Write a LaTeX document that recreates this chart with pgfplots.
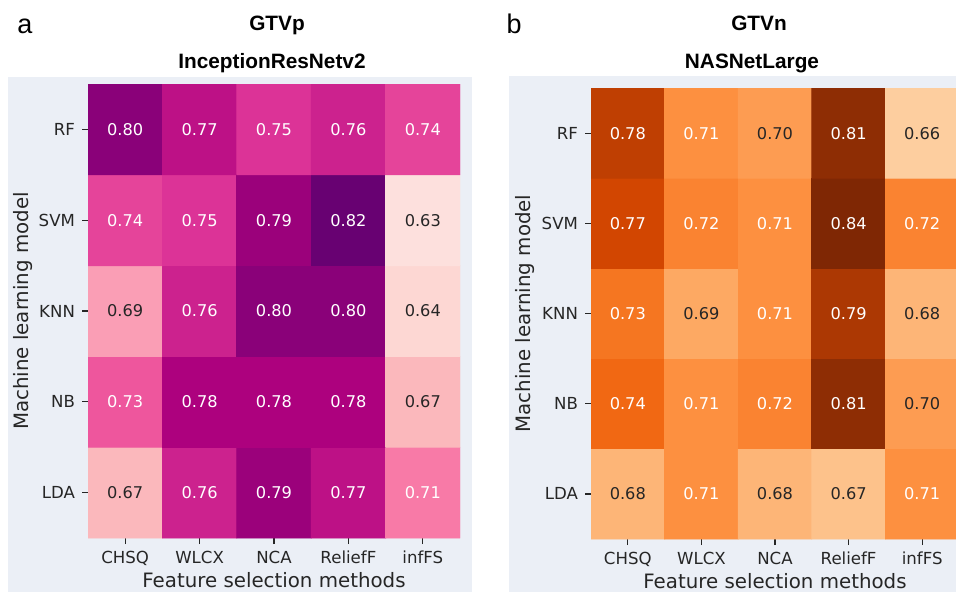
\documentclass[border=0pt]{standalone}
\usepackage{fontspec}
\setmainfont{DejaVu Sans}
\newfontfamily\arial{Liberation Sans}
\usepackage{pgfplots}
\usepackage{pgfplotstable}
\pgfplotsset{compat=1.18}
\definecolor{bgc}{HTML}{EBEFF6}
\definecolor{txt}{HTML}{262626}

% rows: y=4 RF, 3 SVM, 2 KNN, 1 NB, 0 LDA ; cols: 0 CHSQ .. 4 infFS
\pgfplotstableread{
x y v
0 0 0.67
1 0 0.76
2 0 0.79
3 0 0.77
4 0 0.71
0 1 0.73
1 1 0.78
2 1 0.78
3 1 0.78
4 1 0.67
0 2 0.69
1 2 0.76
2 2 0.80
3 2 0.80
4 2 0.64
0 3 0.74
1 3 0.75
2 3 0.79
3 3 0.82
4 3 0.63
0 4 0.80
1 4 0.77
2 4 0.75
3 4 0.76
4 4 0.74
}\leftdata

\pgfplotstableread{
x y v
0 0 0.68
1 0 0.71
2 0 0.68
3 0 0.67
4 0 0.71
0 1 0.74
1 1 0.71
2 1 0.72
3 1 0.81
4 1 0.70
0 2 0.73
1 2 0.69
2 2 0.71
3 2 0.79
4 2 0.68
0 3 0.77
1 3 0.72
2 3 0.71
3 3 0.84
4 3 0.72
0 4 0.78
1 4 0.71
2 4 0.70
3 4 0.81
4 4 0.66
}\rightdata

\pgfplotsset{
 hm/.style={
  scale only axis, enlargelimits=false,
  xmin=-0.5, xmax=4.5, ymin=-0.5, ymax=4.5,
  xtick={0,1,2,3,4}, ytick={0,1,2,3,4},
  xticklabels={CHSQ,WLCX,NCA,ReliefF,infFS},
  yticklabels={LDA,NB,KNN,SVM,RF},
  axis line style={draw=none},
  tick align=outside, xtick pos=left, ytick pos=left,
  major tick length=3pt,
  tick style={txt, line width=0.6pt},
  ticklabel style={font=\fontsize{8.3}{10}\selectfont, text=txt},
  label style={font=\fontsize{9.9}{12}\selectfont, text=txt},
  xlabel={Feature selection methods},
  ylabel={Machine learning model},
 },
 vals/.style={draw=none, mark=none, point meta=\thisrow{v},
  nodes near coords={\pgfmathprintnumber[fixed,fixed zerofill,precision=2,assume math mode=true]{\pgfplotspointmeta}},
  every node near coord/.append style={anchor=center, font=\fontsize{8.1}{10}\selectfont}},
}

\begin{document}
\begin{tikzpicture}
\useasboundingbox (0,0) rectangle (478pt,-295.5pt);
\fill[bgc] (4pt,-38.5pt) rectangle (236pt,-296pt);
\fill[bgc] (254.5pt,-38pt) rectangle (480pt,-296pt);

\node[anchor=base, font=\arial\fontsize{13.5}{15}\selectfont] at (12.5pt,-16.5pt) {a};
\node[anchor=base, font=\arial\bfseries\fontsize{10.4}{12}\selectfont] at (138.5pt,-15.3pt) {GTVp};
\node[anchor=base, font=\arial\bfseries\fontsize{10.4}{12}\selectfont] at (136pt,-34pt) {InceptionResNetv2};
\node[anchor=base, font=\arial\fontsize{13.5}{15}\selectfont] at (257pt,-16.5pt) {b};
\node[anchor=base, font=\arial\bfseries\fontsize{10.4}{12}\selectfont] at (379.5pt,-15.3pt) {GTVn};
\node[anchor=base, font=\arial\bfseries\fontsize{10.4}{12}\selectfont] at (376pt,-34pt) {NASNetLarge};

\begin{axis}[hm, at={(44pt,-42pt)}, anchor=north west, width=186pt, height=227pt,
  colormap={rdpu}{rgb255=(255,247,243) rgb255=(253,224,221) rgb255=(252,197,192) rgb255=(250,159,181) rgb255=(247,104,161) rgb255=(221,52,151) rgb255=(174,1,126) rgb255=(122,1,119) rgb255=(73,0,106)},
  point meta min=0.600, point meta max=0.839,
  xlabel style={at={(axis description cs:0.5,-0.0925)}, anchor=center},
  ylabel style={at={(axis description cs:-0.175,0.5)}, anchor=center},
 ]
 \addplot[matrix plot*, mesh/cols=5, point meta=\thisrow{v}] table {\leftdata};
 \addplot[vals, restrict expr to domain={\thisrow{v}}{0.705:1}, every node near coord/.append style={text=white}] table {\leftdata};
 \addplot[vals, restrict expr to domain={\thisrow{v}}{0:0.705}, every node near coord/.append style={text=txt}] table {\leftdata};
\end{axis}

\begin{axis}[hm, at={(295.5pt,-44pt)}, anchor=north west, width=184pt, height=225.5pt,
  colormap={oranges}{rgb255=(255,245,235) rgb255=(254,230,206) rgb255=(253,208,162) rgb255=(253,174,107) rgb255=(253,141,60) rgb255=(241,105,19) rgb255=(217,72,1) rgb255=(166,54,3) rgb255=(127,39,4)},
  point meta min=0.605, point meta max=0.82,
  xlabel style={at={(axis description cs:0.5,-0.0931)}, anchor=center},
  ylabel style={at={(axis description cs:-0.179,0.5)}, anchor=center},
 ]
 \addplot[matrix plot*, mesh/cols=5, point meta=\thisrow{v}] table {\rightdata};
 \addplot[vals, restrict expr to domain={\thisrow{v}}{0.705:1}, every node near coord/.append style={text=white}] table {\rightdata};
 \addplot[vals, restrict expr to domain={\thisrow{v}}{0:0.705}, every node near coord/.append style={text=txt}] table {\rightdata};
\end{axis}
\end{tikzpicture}
\end{document}
